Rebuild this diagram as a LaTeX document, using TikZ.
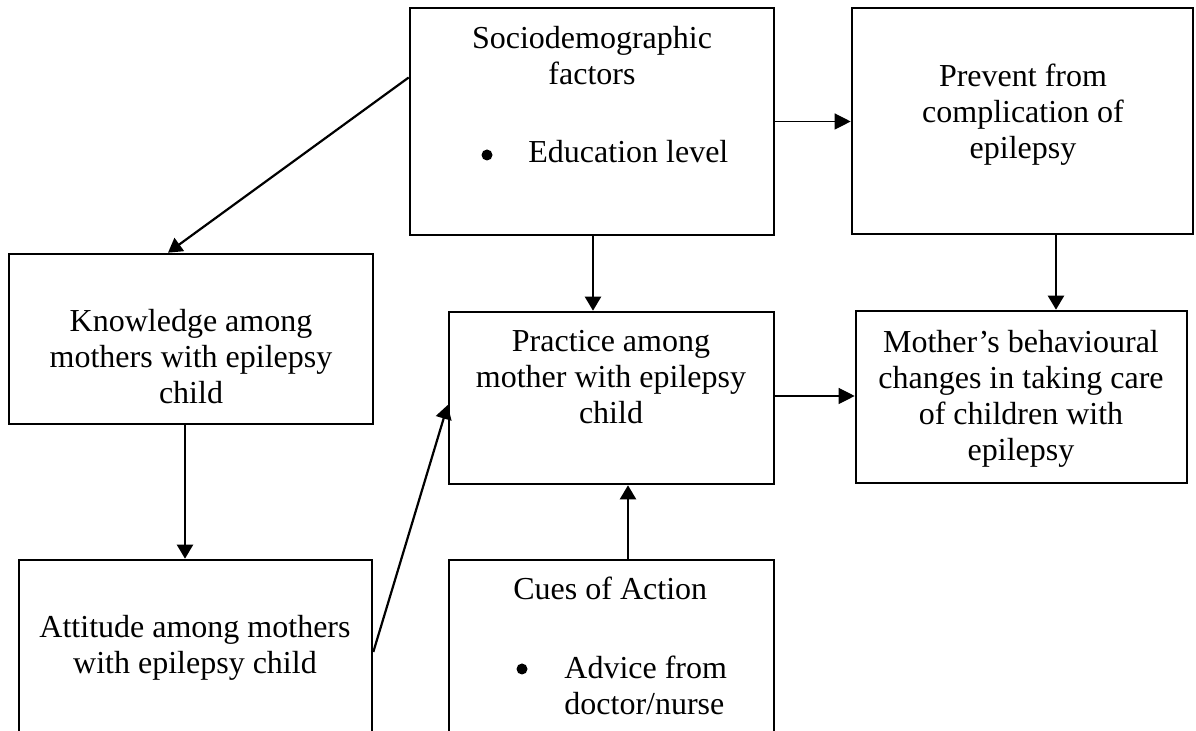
\documentclass[tikz,border=0pt]{standalone}
\usepackage{fontspec}
\setmainfont{Liberation Serif}
\usetikzlibrary{arrows.meta,calc}
\begin{document}
\begin{tikzpicture}[x=0.5pt,y=-0.5pt,
  box/.style={draw,line width=1.3pt,inner sep=0pt,rectangle},
  txt/.style={inner sep=0pt,align=center,font=\fontsize{16pt}{18pt}\selectfont},
  bul/.style={circle,fill,inner sep=0pt,minimum size=5.5pt},
  arr/.style={line width=1.1pt,-{Triangle[length=7pt,width=8pt]}},
  thinarr/.style={line width=0.6pt,-{Triangle[length=8pt,width=8pt]}}]
\useasboundingbox (0,0) rectangle (1196,731);
\clip (0,0) rectangle (1196,731);
% boxes
\node[box,minimum width=182pt,minimum height=113.5pt] (socio) at (592,121.5) {};
\node[box,minimum width=170.5pt,minimum height=113pt] (prevent) at (1022.5,121) {};
\node[box,minimum width=182pt,minimum height=85pt] (know) at (191,339) {};
\node[box,minimum width=162.5pt,minimum height=86pt] (practice) at (611.5,398) {};
\node[box,minimum width=165.5pt,minimum height=86pt] (mother) at (1021.5,397) {};
\node[box,minimum width=176.5pt,minimum height=100pt] (attitude) at (195.5,660) {};
\node[box,minimum width=162.5pt,minimum height=100pt] (cues) at (611.5,660) {};
% texts
\node[txt,anchor=north] (t-socio) at (592,26) {Sociodemographic\\factors};
\node[bul] (b-socio) at (487,155) {};
\node[txt,anchor=base west] (t-edu) at (528,163) {Education level};
\node[txt,anchor=north] (t-prevent) at (1023,64) {Prevent from\\complication of\\epilepsy};
\node[txt,anchor=north] (t-know) at (191,309) {Knowledge among\\mothers with epilepsy\\child};
\node[txt,anchor=north] (t-practice) at (611,330) {Practice among\\mother with epilepsy\\child};
\node[txt,anchor=north] (t-mother) at (1021,330) {Mother’s behavioural\\changes in taking care\\of children with\\epilepsy};
\node[txt,anchor=north] (t-attitude) at (195,615) {Attitude among mothers\\with epilepsy child};
\node[txt,anchor=base west] (t-cues) at (513,600) {Cues of Action};
\node[bul] (b-cues) at (522,669) {};
\node[txt,anchor=north west,align=left] (t-advice) at (564,656) {Advice from\\doctor/nurse};
% connectors
\draw[arr] ([yshift=22pt]socio.west) -- ([xshift=-11.5pt]know.north);
\draw[thinarr] (socio.east) -- (socio.east -| prevent.west);
\draw[arr] ([xshift=0.5pt]socio.south) -- ([xshift=0.5pt]socio.south |- practice.north);
\draw[arr] ([xshift=16.75pt]prevent.south) -- ([xshift=16.75pt]prevent.south |- mother.north);
\draw[arr] ([xshift=-3pt]know.south) -- ([xshift=-3pt]know.south |- attitude.north);
\draw[arr] ([yshift=4pt]attitude.east) -- ([yshift=-3.5pt]practice.west);
\draw[arr] ([xshift=8.25pt]cues.north) -- ([xshift=8.25pt]cues.north |- practice.south);
\draw[thinarr] ([yshift=1pt]practice.east) -- ([yshift=1pt]practice.east -| mother.west);
\end{tikzpicture}
\end{document}
